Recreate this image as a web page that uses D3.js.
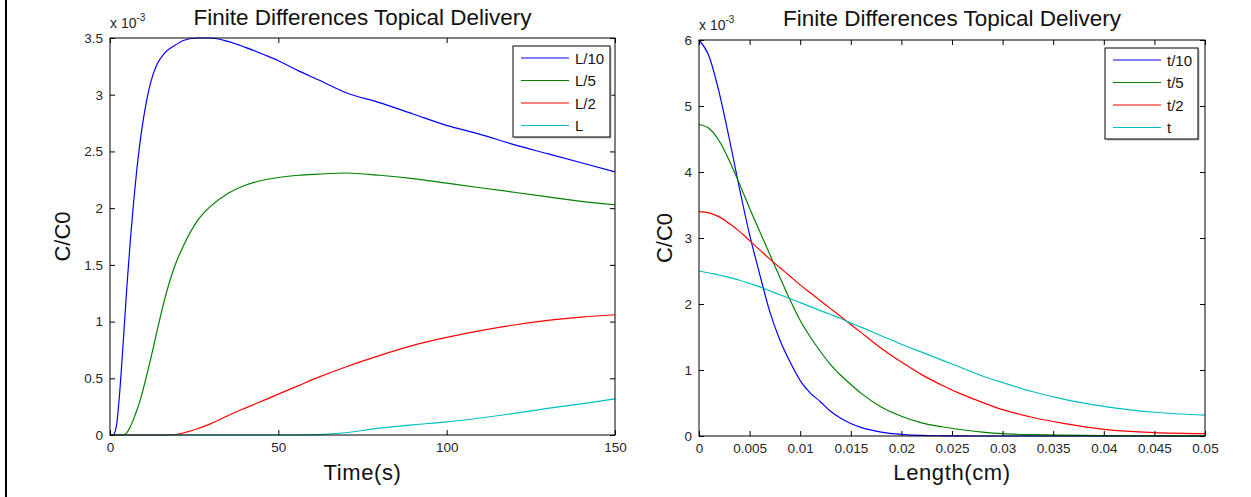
<!DOCTYPE html>
<html>
<head>
<meta charset="utf-8">
<script src="https://cdn.jsdelivr.net/npm/d3@7"></script>
<style>
  body { margin: 0; background: #fff; }
  svg { display: block; font-family: "Liberation Sans", Arial, sans-serif; }
</style>
</head>
<body>
<svg id="chart" width="1251" height="497"></svg>
<script>
// ---------- DATA (concentration values in units of 1e-3, i.e. C/C0 x 10^-3) ----------
const chartTitle = "Finite Differences Topical Delivery";

// Left panel: concentration vs time at depths
const timeS = [0, 1, 2, 3, 4, 5, 6, 7, 8, 9, 10, 12, 14, 16, 19, 22, 26, 30, 35, 40, 46, 50, 56, 62, 70, 80, 90, 100, 110, 120, 130, 140, 150];
const depthL10 = [0, 0.003, 0.1, 0.42, 0.85, 1.3, 1.7, 2.05, 2.35, 2.6, 2.8, 3.1, 3.27, 3.36, 3.43, 3.48, 3.5, 3.5, 3.47, 3.42, 3.35, 3.3, 3.21, 3.13, 3.02, 2.93, 2.83, 2.73, 2.65, 2.56, 2.48, 2.4, 2.32];
const depthL5  = [0, 0, 0, 0, 0, 0.02, 0.07, 0.14, 0.22, 0.31, 0.42, 0.66, 0.92, 1.17, 1.47, 1.68, 1.89, 2.02, 2.13, 2.2, 2.25, 2.27, 2.29, 2.3, 2.31, 2.29, 2.26, 2.22, 2.18, 2.14, 2.1, 2.06, 2.03];
const depthL2  = [0, 0, 0, 0, 0, 0, 0, 0, 0, 0, 0, 0, 0, 0, 0.002, 0.02, 0.055, 0.1, 0.17, 0.235, 0.31, 0.36, 0.435, 0.51, 0.6, 0.7, 0.79, 0.86, 0.92, 0.97, 1.01, 1.04, 1.06];
const depthL   = [0, 0, 0, 0, 0, 0, 0, 0, 0, 0, 0, 0, 0, 0, 0, 0, 0, 0, 0, 0, 0, 0, 0, 0.004, 0.02, 0.06, 0.09, 0.116, 0.15, 0.19, 0.235, 0.275, 0.318];
const leftLabels = ["L/10", "L/5", "L/2", "L"];
const leftXTicks = [0, 50, 100, 150];
const leftYTicks = [0, 0.5, 1, 1.5, 2, 2.5, 3, 3.5];

// Right panel: concentration vs depth at times
const lengthCm = [0, 0.001, 0.002, 0.003, 0.004, 0.005, 0.006, 0.007, 0.008, 0.009, 0.010, 0.011, 0.012, 0.013, 0.014, 0.015, 0.016, 0.018, 0.020, 0.022, 0.024, 0.026, 0.028, 0.030, 0.033, 0.036, 0.040, 0.045, 0.050];
const timeT10 = [6.0, 5.75, 5.2, 4.5, 3.75, 3.05, 2.45, 1.88, 1.45, 1.12, 0.84, 0.65, 0.52, 0.375, 0.27, 0.19, 0.13, 0.06, 0.025, 0.008, 0.003, 0.001, 0, 0, 0, 0, 0, 0, 0];
const timeT5  = [4.72, 4.66, 4.47, 4.17, 3.82, 3.45, 3.1, 2.75, 2.4, 2.06, 1.75, 1.5, 1.28, 1.08, 0.92, 0.78, 0.65, 0.44, 0.3, 0.2, 0.14, 0.095, 0.06, 0.035, 0.02, 0.012, 0.006, 0.003, 0.002];
const timeT2  = [3.4, 3.38, 3.32, 3.22, 3.1, 2.96, 2.82, 2.68, 2.55, 2.42, 2.29, 2.17, 2.05, 1.93, 1.81, 1.69, 1.57, 1.33, 1.12, 0.93, 0.77, 0.63, 0.51, 0.4, 0.28, 0.19, 0.1, 0.05, 0.035];
const timeT   = [2.5, 2.47, 2.44, 2.4, 2.36, 2.31, 2.26, 2.2, 2.14, 2.08, 2.02, 1.96, 1.9, 1.84, 1.78, 1.71, 1.65, 1.52, 1.39, 1.27, 1.15, 1.03, 0.91, 0.81, 0.67, 0.56, 0.45, 0.36, 0.315];
const rightLabels = ["t/10", "t/5", "t/2", "t"];
const rightXTicks = [0, 0.005, 0.01, 0.015, 0.02, 0.025, 0.03, 0.035, 0.04, 0.045, 0.05];
const rightYTicks = [0, 1, 2, 3, 4, 5, 6];

const seriesColors = ["#0000ff", "#008000", "#ff0000", "#00bfbf"];

// ---------- DRAWING ----------
const svg = d3.select("#chart");
svg.append("rect").attr("width", 1251).attr("height", 497).attr("fill", "#fff");
svg.append("rect").attr("x", 5).attr("y", 0).attr("width", 2).attr("height", 497).attr("fill", "#000");

const fmt = d => String(+d.toFixed(4));

function panel(cfg) {
  const x = d3.scaleLinear().domain(cfg.xDomain).range([cfg.x0, cfg.x1]);
  const y = d3.scaleLinear().domain(cfg.yDomain).range([cfg.y1, cfg.y0]);
  const g = svg.append("g");

  // lines
  const line = d3.line().x(d => x(d[0])).y(d => y(d[1])).curve(d3.curveMonotoneX);
  cfg.series.forEach((s, i) => {
    g.append("path")
      .datum(cfg.xs.map((xv, j) => [xv, s[j]]))
      .attr("d", line)
      .attr("fill", "none")
      .attr("stroke", seriesColors[i])
      .attr("stroke-width", 1.2);
  });

  // axes with inward ticks
  const styleAxis = sel => {
    sel.select(".domain").remove();
    sel.selectAll(".tick line").attr("stroke", "#000");
    sel.selectAll(".tick text").attr("fill", "#262626").style("font-size", "13.5px")
      .style("font-family", "'Liberation Sans', Arial, sans-serif");
  };
  g.append("g").attr("transform", `translate(0,${cfg.y1})`)
    .call(d3.axisBottom(x).tickValues(cfg.xTicks).tickFormat(fmt).tickSize(-5).tickPadding(7))
    .call(styleAxis);
  g.append("g").attr("transform", `translate(0,${cfg.y0})`)
    .call(d3.axisTop(x).tickValues(cfg.xTicks).tickFormat("").tickSize(-5))
    .call(styleAxis);
  g.append("g").attr("transform", `translate(${cfg.x0},0)`)
    .call(d3.axisLeft(y).tickValues(cfg.yTicks).tickFormat(fmt).tickSize(-5).tickPadding(7))
    .call(styleAxis);
  g.append("g").attr("transform", `translate(${cfg.x1},0)`)
    .call(d3.axisRight(y).tickValues(cfg.yTicks).tickFormat("").tickSize(-5))
    .call(styleAxis);

  // box
  g.append("rect").attr("x", cfg.x0).attr("y", cfg.y0)
    .attr("width", cfg.x1 - cfg.x0).attr("height", cfg.y1 - cfg.y0)
    .attr("fill", "none").attr("stroke", "#000").attr("stroke-width", 1);

  // exponent label
  const ex = g.append("text").attr("x", cfg.x0).attr("y", cfg.y0 - 10)
    .attr("fill", "#262626").style("font-size", "14px");
  ex.append("tspan").text("x 10");
  ex.append("tspan").attr("dy", -7).style("font-size", "10px").text("-3");

  // title
  g.append("text").attr("x", (cfg.x0 + cfg.x1) / 2).attr("y", cfg.titleY)
    .attr("text-anchor", "middle").attr("fill", "#111").style("font-size", "22.5px")
    .text(chartTitle);

  // axis labels
  g.append("text").attr("x", (cfg.x0 + cfg.x1) / 2).attr("y", 480)
    .attr("text-anchor", "middle").attr("fill", "#111").style("font-size", "22px")
    .style("letter-spacing", "0.6px")
    .text(cfg.xLabel);
  g.append("text").attr("transform", `translate(${cfg.yLabelX},${(cfg.y0 + cfg.y1) / 2}) rotate(-90)`)
    .attr("text-anchor", "middle").attr("fill", "#111").style("font-size", "22px")
    .text("C/C0");

  // legend
  const L = cfg.legend;
  const lg = g.append("g");
  lg.append("rect").attr("x", L.x + 1.5).attr("y", L.y + 1.5).attr("width", L.w).attr("height", L.h)
    .attr("fill", "#bbb");
  lg.append("rect").attr("x", L.x).attr("y", L.y).attr("width", L.w).attr("height", L.h)
    .attr("fill", "#fff").attr("stroke", "#000").attr("stroke-width", 1);
  cfg.labels.forEach((lab, i) => {
    const yy = L.y + 12 + i * 22.5;
    lg.append("line").attr("x1", L.x + 8).attr("x2", L.x + 56).attr("y1", yy).attr("y2", yy)
      .attr("stroke", seriesColors[i]).attr("stroke-width", 1.2);
    lg.append("text").attr("x", L.x + 62).attr("y", yy + 5.5)
      .attr("fill", "#111").style("font-size", "15px").text(lab);
  });
}

panel({
  x0: 110, x1: 615, y0: 38, y1: 435,
  xDomain: [0, 150], yDomain: [0, 3.5],
  xs: timeS, series: [depthL10, depthL5, depthL2, depthL],
  xTicks: leftXTicks, yTicks: leftYTicks,
  xLabel: "Time(s)", yLabelX: 70, titleY: 25,
  labels: leftLabels,
  legend: { x: 513, y: 46, w: 97, h: 91 }
});

panel({
  x0: 699, x1: 1205, y0: 40, y1: 436,
  xDomain: [0, 0.05], yDomain: [0, 6],
  xs: lengthCm, series: [timeT10, timeT5, timeT2, timeT],
  xTicks: rightXTicks, yTicks: rightYTicks,
  xLabel: "Length(cm)", yLabelX: 672, titleY: 26,
  labels: rightLabels,
  legend: { x: 1105, y: 48, w: 93, h: 91 }
});
</script>
</body>
</html>
